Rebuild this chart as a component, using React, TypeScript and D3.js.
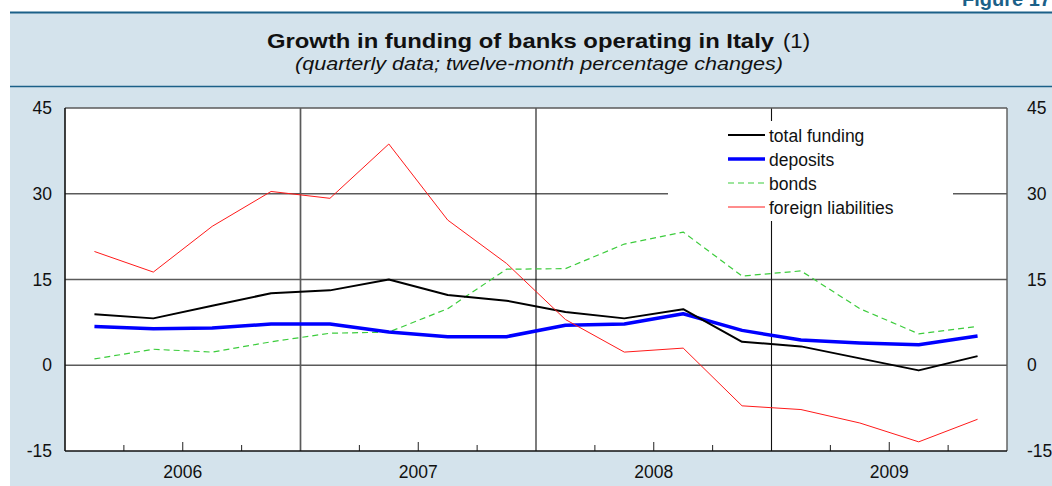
import React from "react";
import * as d3 from "d3";

const quarters = [
  "2006Q1", "2006Q2", "2006Q3", "2006Q4",
  "2007Q1", "2007Q2", "2007Q3", "2007Q4",
  "2008Q1", "2008Q2", "2008Q3", "2008Q4",
  "2009Q1", "2009Q2", "2009Q3", "2009Q4",
];
const years = ["2006", "2007", "2008", "2009"];
const totalFunding = [8.9, 8.2, 10.4, 12.6, 13.1, 15.0, 12.3, 11.3, 9.3, 8.2, 9.8, 4.1, 3.3, 1.2, -0.9, 1.6];
const deposits = [6.8, 6.4, 6.5, 7.2, 7.2, 5.8, 5.0, 5.0, 7.0, 7.2, 9.0, 6.1, 4.4, 3.9, 3.6, 5.1];
const bonds = [1.1, 2.8, 2.3, 4.1, 5.6, 5.8, 9.9, 16.8, 16.9, 21.2, 23.3, 15.6, 16.5, 9.9, 5.5, 6.8];
const foreignLiabilities = [19.9, 16.3, 24.3, 30.4, 29.2, 38.7, 25.4, 17.8, 8.0, 2.3, 3.0, -7.1, -7.75, -10.1, -13.4, -9.45];
const yTicks = [-15, 0, 15, 30, 45];

const W = 1052;
const H = 486;
const plot = { left: 65, right: 1007, top: 108, bottom: 451 };
const FONT = "'Liberation Sans', Arial, Helvetica, sans-serif";
const PANEL = "#d4e3ec";
const TEAL = "#1b6088";

const series = [
  { name: "bonds", values: bonds, color: "#3ccc3c", width: 1.2, dash: "6,4" },
  { name: "deposits", values: deposits, color: "#0000ff", width: 3.5, dash: null },
  { name: "total funding", values: totalFunding, color: "#000000", width: 2, dash: null },
  { name: "foreign liabilities", values: foreignLiabilities, color: "#ff1a1a", width: 1, dash: null },
];
const legendOrder = ["total funding", "deposits", "bonds", "foreign liabilities"];

export default function App() {
  const x = d3.scaleLinear().domain([0, quarters.length]).range([plot.left, plot.right]);
  const y = d3.scaleLinear().domain([-15, 45]).range([plot.bottom, plot.top]);
  const line = d3
    .line<number>()
    .x((_, i) => x(i + 0.5))
    .y((d) => y(d));

  const quarterTicks = d3.range(1, quarters.length).filter((i) => i % 4 !== 0);
  const yearBounds = d3.range(4, quarters.length, 4);

  return (
    <svg
      width={W}
      height={H}
      style={{ position: "absolute", left: 0, top: 0, fontFamily: FONT }}
    >
      <rect x={0} y={0} width={W} height={H} fill="#ffffff" />
      <rect x={10} y={13} width={W - 10} height={H - 13} fill={PANEL} />
      <line x1={10} x2={W} y1={12.5} y2={12.5} stroke={TEAL} strokeWidth={2} />
      <line x1={10} x2={W} y1={86.5} y2={86.5} stroke={TEAL} strokeWidth={1.3} />
      <text x={962} y={6} fontSize={20} fontWeight="bold" fill={TEAL}>
        Figure 17
      </text>

      <text
        x={267}
        y={47.5}
        fontSize={20.5}
        fontWeight="bold"
        fill="#111"
        textLength={507}
        lengthAdjust="spacingAndGlyphs"
      >
        Growth in funding of banks operating in Italy
      </text>
      <text x={783} y={47.5} fontSize={20.5} fill="#111" textLength={27} lengthAdjust="spacingAndGlyphs">
        (1)
      </text>
      <text
        x={295}
        y={70}
        fontSize={19}
        fontStyle="italic"
        fill="#111"
        textLength={488}
        lengthAdjust="spacingAndGlyphs"
      >
        (quarterly data; twelve-month percentage changes)
      </text>

      <rect
        x={plot.left}
        y={plot.top}
        width={plot.right - plot.left}
        height={plot.bottom - plot.top}
        fill="#ffffff"
      />

      {yTicks
        .filter((t) => t !== -15 && t !== 45)
        .map((t) => (
          <line
            key={"h" + t}
            x1={plot.left}
            x2={plot.right}
            y1={y(t)}
            y2={y(t)}
            stroke="#5a5a5a"
            strokeWidth={1.3}
          />
        ))}
      {yearBounds.map((i, k) => (
        <line
          key={"v" + i}
          x1={x(i)}
          x2={x(i)}
          y1={plot.top}
          y2={plot.bottom}
          stroke={k === 0 ? "#5a5a5a" : "#111"}
          strokeWidth={k === 0 ? 1.7 : 1.1}
        />
      ))}
      {quarterTicks.map((i) => (
        <line
          key={"t" + i}
          x1={x(i)}
          x2={x(i)}
          y1={plot.bottom}
          y2={plot.bottom - (i % 2 === 0 ? 9 : 6)}
          stroke="#222"
          strokeWidth={1}
        />
      ))}

      {/* legend box */}
      <rect x={668} y={121} width={285} height={100} fill="#ffffff" />
      {legendOrder.map((name, k) => {
        const s = series.find((d) => d.name === name)!;
        const ly = 135 + k * 24;
        return (
          <g key={name}>
            <line
              x1={728}
              x2={765}
              y1={ly}
              y2={ly}
              stroke={s.color}
              strokeWidth={s.width}
              strokeDasharray={s.dash ?? undefined}
            />
            <text x={769} y={ly + 6.5} fontSize={17.5} fill="#111">
              {name}
            </text>
          </g>
        );
      })}

      {series.map((s) => (
        <path
          key={s.name}
          d={line(s.values) ?? ""}
          fill="none"
          stroke={s.color}
          strokeWidth={s.width}
          strokeDasharray={s.dash ?? undefined}
          strokeLinejoin="round"
        />
      ))}

      {/* plot border */}
      <line x1={plot.left} x2={plot.right} y1={plot.top} y2={plot.top} stroke="#5a5a5a" strokeWidth={1.4} />
      <line x1={plot.right} x2={plot.right} y1={plot.top} y2={plot.bottom} stroke="#5a5a5a" strokeWidth={1.4} />
      <line x1={plot.left} x2={plot.left} y1={plot.top} y2={plot.bottom} stroke="#111" strokeWidth={1.6} />
      <line x1={plot.left} x2={plot.right} y1={plot.bottom} y2={plot.bottom} stroke="#111" strokeWidth={1.6} />

      {yTicks.map((t) => (
        <g key={"yl" + t}>
          <text x={52} y={y(t) + 6} textAnchor="end" fontSize={17.5} fill="#111">
            {t}
          </text>
          <text x={1027} y={y(t) + 6} textAnchor="start" fontSize={17.5} fill="#111">
            {t}
          </text>
        </g>
      ))}
      {years.map((yr, k) => (
        <text key={yr} x={x(k * 4 + 2)} y={478} textAnchor="middle" fontSize={17.5} fill="#111">
          {yr}
        </text>
      ))}
    </svg>
  );
}
